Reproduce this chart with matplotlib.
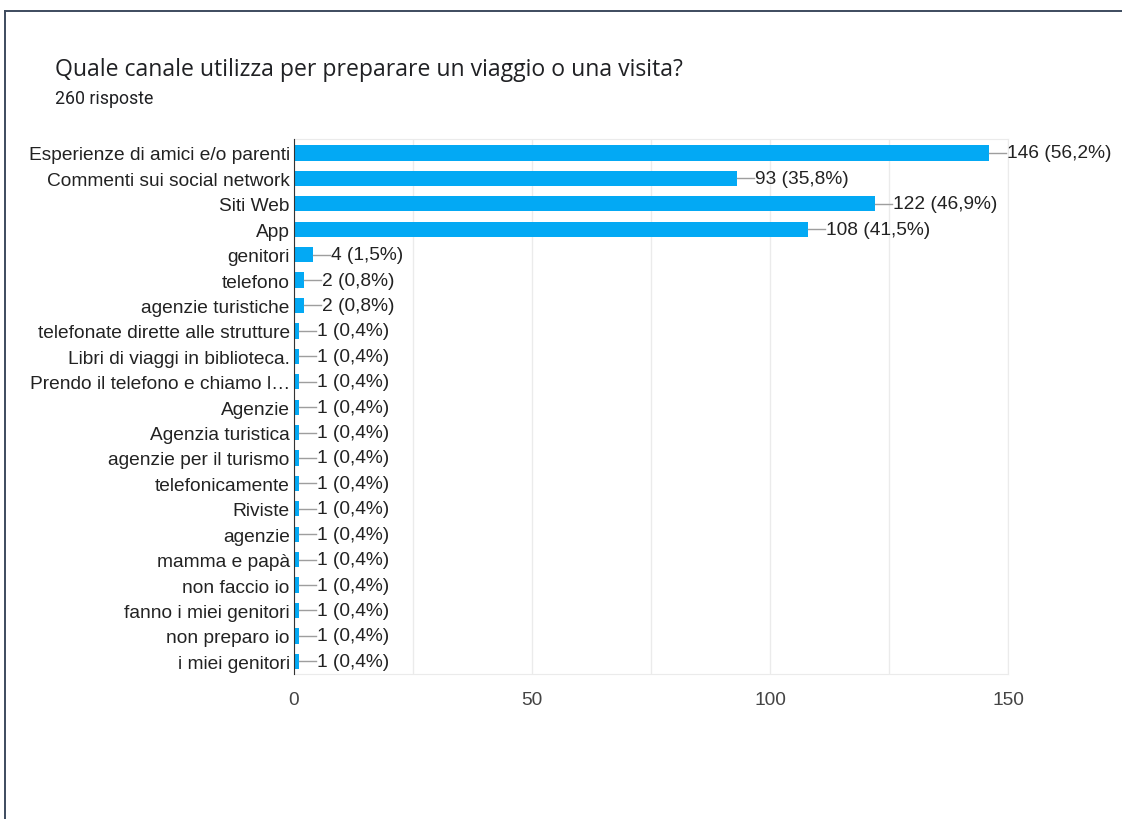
import matplotlib.pyplot as plt
from matplotlib.lines import Line2D

plt.rcParams['font.family'] = ['Liberation Sans', 'DejaVu Sans']

# Risposte alla domanda sul canale usato
categories = [
    "Esperienze di amici e/o parenti",
    "Commenti sui social network",
    "Siti Web",
    "App",
    "genitori",
    "telefono",
    "agenzie turistiche",
    "telefonate dirette alle strutture",
    "Libri di viaggi in biblioteca.",
    "Prendo il telefono e chiamo l\u2026",
    "Agenzie",
    "Agenzia turistica",
    "agenzie per il turismo",
    "telefonicamente",
    "Riviste",
    "agenzie",
    "mamma e papà",
    "non faccio io",
    "fanno i miei genitori",
    "non preparo io",
    "i miei genitori",
]
counts = [146, 93, 122, 108, 4, 2, 2, 1, 1, 1, 1, 1, 1, 1, 1, 1, 1, 1, 1, 1, 1]
percents = ["56,2", "35,8", "46,9", "41,5", "1,5", "0,8", "0,8",
            "0,4", "0,4", "0,4", "0,4", "0,4", "0,4", "0,4", "0,4",
            "0,4", "0,4", "0,4", "0,4", "0,4", "0,4"]
xticks = [0, 50, 100, 150]

fig = plt.figure(figsize=(11.22, 8.2), dpi=100)

# cornice scura in alto e a sinistra
fig.add_artist(Line2D([5 / 1122, 1.0], [1 - 12 / 820, 1 - 12 / 820],
                      color='#3d4b5e', lw=1.4, transform=fig.transFigure))
fig.add_artist(Line2D([5 / 1122, 5 / 1122], [0, 1 - 12 / 820],
                      color='#3d4b5e', lw=1.4, transform=fig.transFigure))

fig.text(55 / 1122, 1 - 70 / 820,
         "Quale canale utilizza per preparare un viaggio o una visita?",
         fontsize=16.6, color='#202124', va='center', ha='left',
         family=['Open Sans', 'DejaVu Sans'])
fig.text(55 / 1122, 1 - 99 / 820, "260 risposte", fontsize=12.8,
         color='#202124', va='center', ha='left', family=['Roboto', 'DejaVu Sans'])

ax = fig.add_axes([294 / 1122, 1 - 675 / 820, 714 / 1122, 535 / 820])

y = list(range(len(categories)))
ax.barh(y, counts, height=0.6, color='#03a9f4', zorder=3)

for i, (c, p) in enumerate(zip(counts, percents)):
    ax.plot([c, c + 3.6], [i, i], color='#9e9e9e', lw=1, zorder=3)
    ax.text(c + 3.8, i, f"{c} ({p}%)", va='center', ha='left',
            fontsize=13.8, color='#222222')

ax.set_xlim(0, 150)
ax.set_ylim(20.5, -0.55)
ax.set_yticks(y)
ax.set_yticklabels(categories, fontsize=13.8, color='#222222')
ax.set_xticks(xticks)
ax.set_xticklabels([str(t) for t in xticks], fontsize=13.8, color='#444444')
ax.set_xticks([25, 75, 125], minor=True)
ax.tick_params(axis='both', which='both', length=0)
ax.tick_params(axis='x', pad=12)
ax.tick_params(axis='y', pad=3)

ax.grid(True, axis='x', which='both', color='#ebebeb', lw=1, zorder=0)
for side in ['top', 'right', 'bottom']:
    ax.spines[side].set_color('#ebebeb')
ax.spines['left'].set_color('#333333')
ax.spines['left'].set_zorder(4)

plt.savefig("out.png", dpi=100)
